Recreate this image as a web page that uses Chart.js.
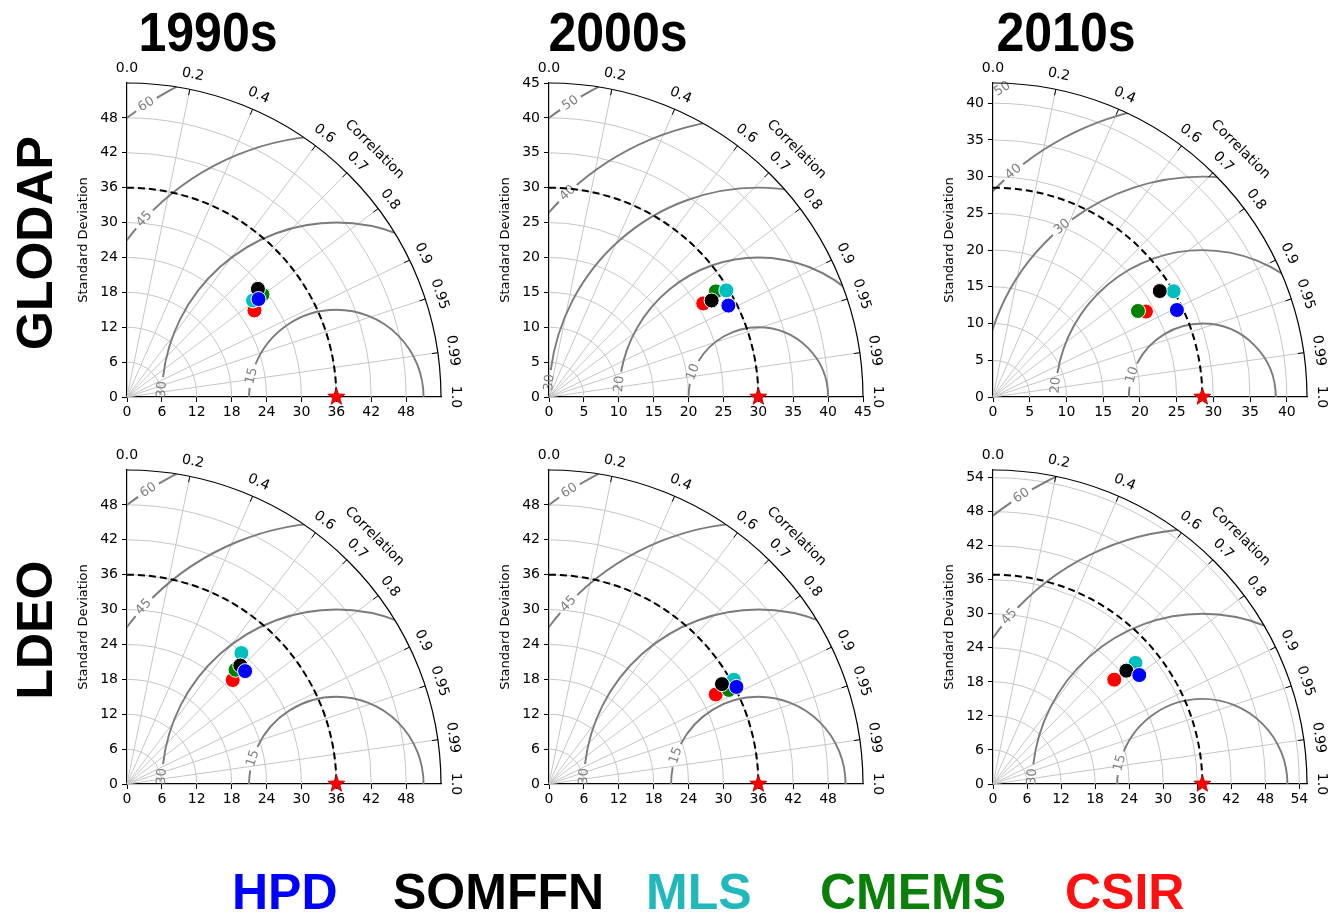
<!DOCTYPE html>
<html>
<head>
<meta charset="utf-8">
<script src="https://cdn.jsdelivr.net/npm/chart.js@4.4.1/dist/chart.umd.min.js"></script>
<style>
  body { margin: 0; background: #fff; }
  #page { position: relative; width: 1338px; height: 922px; overflow: hidden; background: #fff;
          font-family: 'Liberation Sans', Arial, sans-serif; }
  canvas { position: absolute; }
  .colTitle { position: absolute; top: 5px; width: 300px; text-align: center; font-weight: bold;
              font-size: 55px; line-height: 1; transform: scaleX(0.91);
              font-family: 'Liberation Sans Narrow', 'Liberation Sans', Arial, sans-serif; }
  .rowTitle { position: absolute; font-weight: bold; font-size: 50px; line-height: 1; white-space: nowrap;
              transform: translate(-50%, -50%) rotate(-90deg); }
  .leg { position: absolute; top: 867px; font-weight: bold; font-size: 50px; line-height: 1; white-space: nowrap; }
</style>
</head>
<body>
<div id="page">
  <div class="colTitle" style="left:58px">1990s</div>
  <div class="colTitle" style="left:468px">2000s</div>
  <div class="colTitle" style="left:916px">2010s</div>
  <div class="rowTitle" style="left:35px;top:243px">GLODAP</div>
  <div class="rowTitle" style="left:35px;top:630px">LDEO</div>

  <canvas id="c0" width="439" height="384"></canvas>
  <canvas id="c1" width="439" height="384"></canvas>
  <canvas id="c2" width="439" height="384"></canvas>
  <canvas id="c3" width="439" height="384"></canvas>
  <canvas id="c4" width="439" height="384"></canvas>
  <canvas id="c5" width="439" height="384"></canvas>

  <div class="leg" style="left:232px;color:#0000ff">HPD</div>
  <div class="leg" style="left:393px;color:#000000">SOMFFN</div>
  <div class="leg" style="left:646px;color:#20b8bb">MLS</div>
  <div class="leg" style="left:820px;color:#0a7f0a">CMEMS</div>
  <div class="leg" style="left:1065px;color:#ff1010">CSIR</div>
</div>
<script>
// models, in legend order
const models = ['HPD', 'SOMFFN', 'MLS', 'CMEMS', 'CSIR'];
const modelColors = ['#0000ff', '#000000', '#00bfbf', '#008000', '#ff0000'];

// reference (observed) standard deviation of each panel
const refStd = [36, 30, 28.5, 36, 36, 36.9];

// standard deviation and correlation of each model (models order)
const stdGlodap1990 = [28.2, 29.2, 27.3, 29.2, 26.5];
const corGlodap1990 = [0.802, 0.771, 0.794, 0.798, 0.827];
const stdGlodap2000 = [28.85, 27.1, 29.65, 28.3, 25.85];
const corGlodap2000 = [0.891, 0.860, 0.857, 0.845, 0.855];
const stdGlodap2010 = [27.7, 26.9, 28.5, 22.95, 23.85];
const corGlodap2010 = [0.904, 0.844, 0.863, 0.860, 0.873];
const stdLdeo1990 = [28.1, 28.2, 29.9, 27.1, 25.5];
const corLdeo1990 = [0.723, 0.691, 0.658, 0.689, 0.713];
const stdLdeo2000 = [36.3, 34.35, 36.5, 34.9, 32.55];
const corLdeo2000 = [0.888, 0.866, 0.871, 0.886, 0.881];
const stdLdeo2010 = [32.15, 30.85, 32.95, 31.45, 28.2];
const corLdeo2010 = [0.802, 0.762, 0.762, 0.766, 0.758];

// std axis ticks
const ticksBy6 = [0, 6, 12, 18, 24, 30, 36, 42, 48];
const ticksBy6To54 = [0, 6, 12, 18, 24, 30, 36, 42, 48, 54];
const ticksBy5To45 = [0, 5, 10, 15, 20, 25, 30, 35, 40, 45];
const ticksBy5To40 = [0, 5, 10, 15, 20, 25, 30, 35, 40];

// centred RMS difference contour levels
const rmsBy15 = [15, 30, 45, 60];
const rmsBy10 = [10, 20, 30, 40, 50];

// correlation grid
const corrLines = [0.2, 0.4, 0.6, 0.7, 0.8, 0.9, 0.95, 0.99];
const corrTicks = [0, 0.2, 0.4, 0.6, 0.7, 0.8, 0.9, 0.95, 0.99, 1];
const corrTickLabels = ['0.0', '0.2', '0.4', '0.6', '0.7', '0.8', '0.9', '0.95', '0.99', '1.0'];

// panel layout: origin of each diagram on the page, contour label angle (deg, around the ref point)
const panels = [
  { std: stdGlodap1990, cor: corGlodap1990, ref: refStd[0], ticks: ticksBy6, rms: rmsBy15, labelAng: [166, 177.5, 137.2, 123], ox: 127, oy: 397 },
  { std: stdGlodap2000, cor: corGlodap2000, ref: refStd[1], ticks: ticksBy5To45, rms: rmsBy10, labelAng: [159, 174.6, 176, 133.1, 122.6], ox: 549, oy: 397 },
  { std: stdGlodap2010, cor: corGlodap2010, ref: refStd[2], ticks: ticksBy5To40, rms: rmsBy10, labelAng: [162.5, 175.4, 129.5, 130, 123], ox: 993, oy: 397 },
  { std: stdLdeo1990, cor: corLdeo1990, ref: refStd[3], ticks: ticksBy6, rms: rmsBy15, labelAng: [162.9, 177.5, 137.4, 122.6], ox: 127, oy: 784 },
  { std: stdLdeo2000, cor: corLdeo2000, ref: refStd[4], ticks: ticksBy6, rms: rmsBy15, labelAng: [160.9, 177.5, 136.5, 122.8], ox: 549, oy: 784 },
  { std: stdLdeo2010, cor: corLdeo2010, ref: refStd[5], ticks: ticksBy6To54, rms: rmsBy15, labelAng: [165.7, 177.5, 139.1, 122.1], ox: 993, oy: 784 }
];

const Y_AXIS_W = 55;
const X_AXIS_H = 30;
const PAD_TOP = 40;

// Taylor diagram decorations drawn on top of the scatter scales
const taylorPlugin = {
  id: 'taylor',
  beforeDatasetsDraw(chart, args, o) {
    const ctx = chart.ctx;
    const xs = chart.scales.x, ys = chart.scales.y;
    const ox = xs.getPixelForValue(0), oy = ys.getPixelForValue(0);
    const k = xs.getPixelForValue(1) - ox;
    const R = o.max * k;
    ctx.save();

    // std circles
    ctx.strokeStyle = '#c6c6c6';
    ctx.lineWidth = 1;
    xs.ticks.forEach(t => {
      if (t.value > 0 && t.value < o.max - 0.01) {
        ctx.beginPath();
        ctx.arc(ox, oy, t.value * k, -Math.PI / 2, 0);
        ctx.stroke();
      }
    });
    // correlation rays
    corrLines.forEach(c => {
      const th = Math.acos(c);
      ctx.beginPath();
      ctx.moveTo(ox, oy);
      ctx.lineTo(ox + R * Math.cos(th), oy - R * Math.sin(th));
      ctx.stroke();
    });

    // RMS contours around the reference point
    const cx = xs.getPixelForValue(o.ref);
    ctx.font = '13px "DejaVu Sans"';
    ctx.save();
    ctx.beginPath();
    ctx.moveTo(ox, oy);
    ctx.arc(ox, oy, R, 0, -Math.PI / 2, true);
    ctx.closePath();
    ctx.clip();
    ctx.strokeStyle = '#7b7b7b';
    ctx.lineWidth = 1.9;
    o.rms.forEach((r, i) => {
      const a = o.labelAng[i] * Math.PI / 180;
      const gap = (ctx.measureText(String(r)).width / 2 + 4) / (r * k);
      if (a - gap > 0) {
        ctx.beginPath();
        ctx.arc(cx, oy, r * k, 0, -(a - gap), true);
        ctx.stroke();
      }
      if (a + gap < Math.PI) {
        ctx.beginPath();
        ctx.arc(cx, oy, r * k, -(a + gap), -Math.PI, true);
        ctx.stroke();
      }
    });
    ctx.restore();
    ctx.fillStyle = '#808080';
    ctx.textAlign = 'center';
    ctx.textBaseline = 'middle';
    o.rms.forEach((r, i) => {
      const a = o.labelAng[i] * Math.PI / 180;
      ctx.save();
      ctx.translate(cx + r * k * Math.cos(a), oy - r * k * Math.sin(a));
      ctx.rotate(Math.atan2(Math.cos(a), Math.sin(a)));
      ctx.fillText(String(r), 0, 0);
      ctx.restore();
    });

    // reference std arc
    ctx.strokeStyle = '#000';
    ctx.lineWidth = 2;
    ctx.setLineDash([7, 4]);
    ctx.beginPath();
    ctx.arc(ox, oy, o.ref * k, -Math.PI / 2, 0);
    ctx.stroke();
    ctx.setLineDash([]);

    // outer arc, correlation ticks and labels
    ctx.lineWidth = 1.2;
    ctx.beginPath();
    ctx.arc(ox, oy, R, -Math.PI / 2, 0);
    ctx.stroke();
    ctx.lineWidth = 1;
    ctx.fillStyle = '#000';
    ctx.font = '14px "DejaVu Sans"';
    corrTicks.forEach((c, i) => {
      const th = Math.acos(c);
      const cs = Math.cos(th), sn = Math.sin(th);
      if (c > 0 && c < 1) {
        ctx.beginPath();
        ctx.moveTo(ox + R * cs, oy - R * sn);
        ctx.lineTo(ox + (R - 6) * cs, oy - (R - 6) * sn);
        ctx.stroke();
      }
      ctx.save();
      ctx.translate(ox + (R + 15) * cs, oy - (R + 15) * sn);
      ctx.rotate(Math.PI / 2 - th);
      ctx.fillText(corrTickLabels[i], 0, 0);
      ctx.restore();
    });
    ctx.save();
    ctx.translate(ox + (R + 36) * Math.SQRT1_2, oy - (R + 36) * Math.SQRT1_2);
    ctx.rotate(Math.PI / 4);
    ctx.fillText('Correlation', 0, 0);
    ctx.restore();
    ctx.restore();
  },
  afterDatasetsDraw(chart, args, o) {
    // reference point star
    const ctx = chart.ctx;
    const sx = chart.scales.x.getPixelForValue(o.ref), sy = chart.scales.y.getPixelForValue(0);
    ctx.save();
    ctx.beginPath();
    for (let i = 0; i < 10; i++) {
      const rr = i % 2 === 0 ? 9 : 3.8;
      const ang = -Math.PI / 2 + i * Math.PI / 5;
      ctx.lineTo(sx + rr * Math.cos(ang), sy + rr * Math.sin(ang));
    }
    ctx.closePath();
    ctx.fillStyle = '#ff0000';
    ctx.fill();
    ctx.strokeStyle = '#b00000';
    ctx.lineWidth = 0.8;
    ctx.stroke();
    ctx.restore();
  }
};

function axisOptions(max, ticks, vertical) {
  return {
    type: 'linear',
    min: 0,
    max: max,
    afterBuildTicks: s => { s.ticks = ticks.map(v => ({ value: v })); },
    afterFit: s => { if (vertical) s.width = Y_AXIS_W; else s.height = X_AXIS_H; },
    grid: { display: true, drawOnChartArea: false, drawTicks: true, tickLength: 5, color: '#000', lineWidth: 1 },
    border: { display: true, color: '#000', width: 1.2 },
    ticks: {
      color: '#000',
      font: { family: 'DejaVu Sans', size: 14 },
      padding: vertical ? 4 : 2,
      autoSkip: false,
      maxRotation: 0,
      callback: v => String(v)
    },
    title: vertical
      ? { display: true, text: 'Standard Deviation', color: '#000', font: { family: 'DejaVu Sans', size: 13 }, padding: { top: 4, bottom: 0 } }
      : { display: false }
  };
}

function makeChart(p, idx) {
  const canvas = document.getElementById('c' + idx);
  canvas.style.left = (p.ox - Y_AXIS_W) + 'px';
  canvas.style.top = (p.oy - 314 - PAD_TOP) + 'px';
  const max = p.ref * 1.5;
  const datasets = models.map((m, i) => ({
    label: m,
    data: [{ x: p.std[i] * p.cor[i], y: p.std[i] * Math.sqrt(1 - p.cor[i] * p.cor[i]) }],
    backgroundColor: modelColors[i],
    borderColor: '#ffffff',
    borderWidth: 1,
    pointRadius: 7.5,
    clip: false
  }));
  return new Chart(canvas, {
    type: 'scatter',
    data: { datasets: datasets },
    options: {
      responsive: false,
      animation: false,
      events: [],
      layout: { padding: { top: PAD_TOP, right: 70, left: 0, bottom: 0 } },
      plugins: {
        legend: { display: false },
        tooltip: { enabled: false },
        taylor: { ref: p.ref, max: max, rms: p.rms, labelAng: p.labelAng }
      },
      scales: {
        x: axisOptions(max, p.ticks, false),
        y: axisOptions(max, p.ticks, true)
      }
    },
    plugins: [taylorPlugin]
  });
}

panels.forEach(makeChart);
</script>
</body>
</html>
